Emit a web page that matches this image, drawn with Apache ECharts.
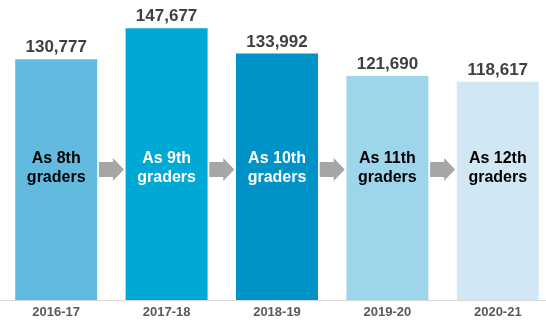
<!DOCTYPE html>
<html>
<head>
<meta charset="utf-8">
<script src="https://cdn.jsdelivr.net/npm/echarts@6/dist/echarts.min.js"></script>
<style>
    html, body { margin: 0; padding: 0; background: #fff; }
    .chart { width: 546px; height: 320px; }
</style>
</head>
<body>
<div class="chart"></div>
<script>
// 数据
const years = ['2016-17', '2017-18', '2018-19', '2019-20', '2020-21'];
const students = [130777, 147677, 133992, 121690, 118617];
const grades = ['As 8th\ngraders', 'As 9th\ngraders', 'As 10th\ngraders', 'As 11th\ngraders', 'As 12th\ngraders'];
// 箭头: 从第 i 个柱子指向下一个
const arrowFrom = [0, 1, 2, 3];

//柱状图
(function () {
    const barColors = ['#62bbdf', '#00a9d5', '#0093c7', '#9dd5ea', '#d1e8f4']
    const textColors = ['#000', '#fff', '#fff', '#000', '#000']
    const font = 'Liberation Sans, Arial, sans-serif'

    const chart = echarts.init(document.querySelector('.chart'))
    const option = {
        animation: false,
        grid: {
            left: 1,
            top: 0,
            bottom: 20,
            width: 552,
            outerBoundsMode: 'none'
        },
        xAxis: {
            type: 'category',
            data: years,
            axisTick: { show: false },
            axisLine: {
                lineStyle: { color: '#d9d9d9', width: 1 }
            },
            axisLabel: {
                color: '#595959',
                fontFamily: font,
                fontWeight: 'bold',
                fontSize: 13,
                margin: 6
            }
        },
        yAxis: {
            type: 'value',
            min: 0,
            max: 163000,
            show: false
        },
        series: [
            {
                type: 'bar',
                barWidth: 82,
                data: students.map((v, i) => ({
                    value: v,
                    itemStyle: { color: barColors[i] }
                })),
                label: {
                    show: true,
                    position: 'top',
                    distance: 3,
                    color: '#404040',
                    fontFamily: font,
                    fontWeight: 'bold',
                    fontSize: 17,
                    formatter: p => p.value.toLocaleString('en-US')
                }
            },
            {
                // 透明叠加层, 只用来放年级文字
                type: 'bar',
                barWidth: 82,
                barGap: '-100%',
                silent: true,
                data: students.map((v, i) => ({
                    value: v,
                    label: { color: textColors[i] }
                })),
                itemStyle: { color: 'transparent' },
                label: {
                    show: true,
                    position: 'insideBottom',
                    distance: 113,
                    fontFamily: font,
                    fontWeight: 'bold',
                    fontSize: 16,
                    lineHeight: 19,
                    align: 'center',
                    formatter: p => grades[p.dataIndex]
                }
            },
            {
                type: 'custom',
                silent: true,
                z: 10,
                data: arrowFrom,
                renderItem: function (params, api) {
                    const i = api.value(0)
                    const p0 = api.coord([i, 0])
                    const p1 = api.coord([i + 1, 0])
                    const x = (p0[0] + p1[0]) / 2
                    const y = p0[1] - 130.5
                    return {
                        type: 'polygon',
                        shape: {
                            points: [
                                [x - 12.5, y - 7.5],
                                [x + 1.5, y - 7.5],
                                [x + 1.5, y - 11.5],
                                [x + 12.5, y],
                                [x + 1.5, y + 11.5],
                                [x + 1.5, y + 7.5],
                                [x - 12.5, y + 7.5]
                            ]
                        },
                        style: { fill: '#a6a6a6' }
                    }
                }
            }
        ]
    }

    chart.setOption(option)
    window.addEventListener('resize', () => {
        chart.resize()
    })
})();
</script>
</body>
</html>
